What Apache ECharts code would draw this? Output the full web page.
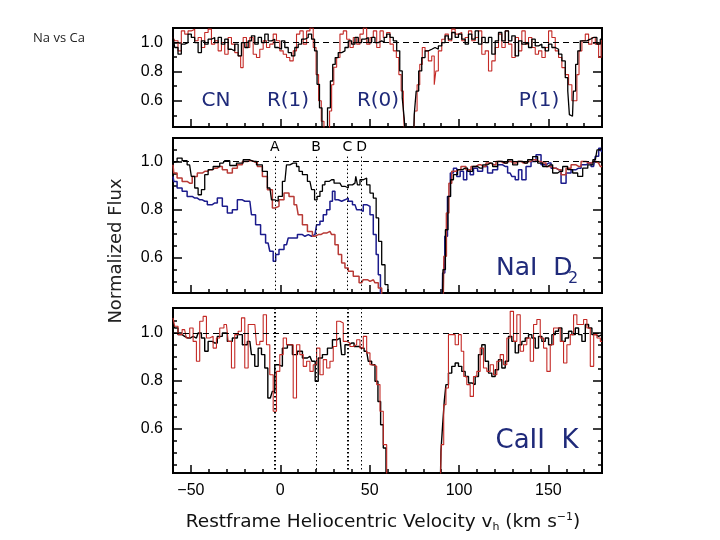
<!DOCTYPE html>
<html>
<head>
<meta charset="utf-8">
<script src="https://cdn.jsdelivr.net/npm/echarts@6/dist/echarts.min.js"></script>
<style>
html,body{margin:0;padding:0;background:#fff;}
#chart{width:720px;height:540px;}
</style>
</head>
<body>
<div id="chart"></div>
<script>
// ---- tick values / labels ----
const xMinorTicks = [-50,-40,-30,-20,-10,0,10,20,30,40,50,60,70,80,90,100,110,120,130,140,150,160,170];
const xMajorTicks = [-50,0,50,100,150];
const yMajorTicks = [0.6,0.8,1.0];
const yMinorTicksTop = [0.5,0.6,0.7,0.8,0.9,1.0];
const yMinorTicksMid = [0.5,0.55,0.6,0.65,0.7,0.75,0.8,0.85,0.9,0.95,1.0,1.05];
const yMinorTicksBot = [0.45,0.5,0.55,0.6,0.65,0.7,0.75,0.8,0.85,0.9,0.95,1.0,1.05];

// component velocities (km/s)
const compNames = ['A','B','C','D'];
const compVel = [-3,20,37.5,45.5];

// ---- CN panel: [velocity, normalized flux] ----
const cnBlack = [[-60.0,1.046],[-58.1,0.966],[-56.3,0.92],[-54.4,0.989],[-52.5,1.0],[-50.7,1.058],[-48.8,1.035],[-46.9,1.0],[-45.0,0.931],[-43.2,1.012],[-41.3,0.989],[-39.4,1.023],[-37.6,1.035],[-35.7,1.0],[-33.8,1.035],[-32.0,0.989],[-30.1,1.023],[-28.2,0.954],[-26.4,0.943],[-24.5,0.989],[-22.6,0.908],[-20.8,1.0],[-18.9,0.966],[-17.0,1.012],[-15.2,1.046],[-13.3,0.989],[-11.4,1.035],[-9.6,1.0],[-7.7,1.058],[-5.8,1.012],[-4.0,1.023],[-2.1,0.966],[-0.2,0.954],[1.6,1.012],[3.5,0.966],[5.4,0.931],[7.2,0.908],[9.1,0.966],[11.0,0.989],[12.9,1.023],[14.7,1.035],[16.6,1.058],[18.5,1.023],[19.9,0.943],[21.3,0.713],[22.6,0.552],[24.1,0.3],[25.5,0.3],[27.4,0.552],[28.7,0.736],[30.0,0.85],[31.5,0.897],[33.4,0.931],[35.3,0.943],[37.1,0.966],[39.0,1.012],[40.9,0.989],[42.7,1.035],[44.6,1.0],[46.5,1.023],[48.3,1.035],[50.2,1.0],[52.1,1.035],[53.9,1.0],[55.8,1.012],[57.7,1.0],[58.6,1.035],[60.5,1.058],[62.3,1.035],[64.2,1.012],[66.1,0.943],[67.6,0.805],[68.9,0.62],[69.8,0.48],[70.7,0.3],[74.5,0.3],[75.4,0.505],[76.7,0.667],[78.2,0.805],[80.1,0.897],[81.9,0.943],[83.8,0.954],[85.7,0.966],[87.5,0.954],[89.4,0.977],[91.3,1.0],[93.1,1.046],[95.0,1.023],[96.9,1.069],[98.8,1.035],[100.6,1.058],[102.5,1.023],[104.4,0.989],[106.2,1.058],[108.1,1.023],[110.0,1.08],[111.8,0.989],[113.7,1.035],[115.6,1.0],[117.4,1.035],[119.3,0.92],[121.2,1.012],[123.0,1.069],[124.9,1.012],[126.8,1.08],[128.6,1.012],[130.5,1.046],[132.4,0.908],[134.2,1.012],[136.1,0.989],[138.0,1.0],[139.8,0.966],[141.7,1.023],[143.6,0.977],[145.4,0.989],[147.3,0.966],[149.2,0.943],[151.0,0.989],[152.9,0.966],[154.8,0.954],[156.6,0.92],[158.5,0.874],[160.4,0.759],[161.3,0.667],[162.2,0.505],[163.5,0.494],[164.5,0.667],[166.0,0.85],[166.9,0.943],[168.8,1.012],[170.6,1.012],[172.5,1.023],[174.4,1.035],[176.2,1.035],[178.1,0.989],[180.0,1.023]];

const cnRed = [[-60.0,1.035],[-58.1,1.012],[-56.3,0.943],[-54.4,1.08],[-52.5,1.058],[-50.7,1.08],[-48.8,1.092],[-46.9,1.012],[-45.0,1.035],[-43.2,0.966],[-41.3,1.069],[-39.4,1.092],[-37.6,0.989],[-35.7,1.012],[-33.8,0.943],[-32.0,1.0],[-30.1,0.92],[-28.2,1.035],[-26.4,0.989],[-24.5,0.931],[-22.6,0.908],[-21.7,0.828],[-19.8,1.035],[-18.0,0.966],[-16.1,1.035],[-14.2,0.92],[-12.4,0.897],[-10.5,0.954],[-8.6,1.012],[-6.8,0.966],[-4.9,0.989],[-3.0,1.058],[-1.2,1.012],[0.7,0.943],[2.6,0.92],[4.4,0.897],[6.3,0.874],[8.2,0.943],[10.0,1.058],[11.9,1.08],[13.8,0.989],[15.7,1.08],[17.5,1.1],[19.4,0.966],[20.7,0.78],[22.2,0.6],[23.7,0.46],[25.2,0.3],[27.0,0.3],[28.2,0.53],[29.3,0.71],[30.6,0.83],[32.5,0.897],[34.3,1.058],[36.2,1.08],[38.1,1.023],[39.9,0.966],[41.8,1.035],[43.7,0.989],[45.5,1.058],[47.4,1.1],[49.3,0.989],[51.1,1.035],[53.0,1.08],[54.9,0.966],[56.7,1.08],[58.6,1.035],[60.5,1.069],[62.3,0.989],[64.2,0.943],[65.7,0.897],[67.0,0.78],[68.3,0.667],[69.4,0.53],[70.4,0.3],[74.5,0.3],[75.8,0.53],[77.3,0.71],[78.8,0.85],[80.1,0.966],[81.9,0.943],[83.8,0.874],[85.7,0.908],[86.6,0.71],[87.5,0.805],[89.4,0.943],[91.3,1.023],[93.1,1.058],[95.0,1.012],[96.9,1.092],[98.8,1.058],[100.6,1.069],[102.5,1.012],[104.4,1.035],[106.2,1.08],[108.1,1.012],[110.0,1.035],[111.8,1.08],[113.7,0.92],[115.6,0.943],[117.4,0.805],[119.3,0.874],[121.2,0.966],[123.0,1.058],[124.9,0.966],[126.8,1.08],[128.6,0.989],[130.5,0.897],[132.4,1.035],[134.2,0.943],[136.1,1.08],[138.0,0.989],[139.8,1.035],[141.7,0.966],[143.6,0.92],[145.4,0.943],[147.3,0.897],[149.2,0.966],[151.0,1.08],[152.9,1.035],[154.8,0.943],[156.6,0.897],[158.5,0.828],[160.4,0.78],[162.2,0.71],[164.1,0.6],[165.4,0.6],[166.5,0.78],[167.8,0.943],[169.7,1.012],[171.6,1.058],[173.4,0.989],[175.3,1.035],[177.2,0.989],[179.0,0.897],[180.0,1.012]];

// ---- Na I D2 panel ----
const naBlack = [[-60.0,0.995],[-59.1,1.0],[-56.3,1.014],[-53.5,1.003],[-50.7,0.986],[-48.8,0.938],[-46.9,0.89],[-45.0,0.862],[-43.2,0.883],[-41.3,0.945],[-39.4,0.966],[-35.7,0.979],[-32.0,0.993],[-30.1,1.003],[-26.4,0.983],[-22.6,0.993],[-18.9,1.007],[-15.2,1.0],[-11.4,0.986],[-8.6,0.959],[-5.8,0.89],[-4.0,0.841],[-2.1,0.835],[-0.2,0.855],[2.6,0.917],[4.4,0.986],[6.3,0.993],[8.2,0.993],[10.0,0.979],[11.0,0.959],[13.8,0.945],[16.6,0.917],[18.5,0.883],[19.9,0.841],[21.3,0.855],[23.1,0.876],[24.1,0.903],[25.9,0.917],[28.7,0.924],[31.5,0.91],[33.4,0.91],[35.3,0.897],[37.1,0.89],[39.0,0.903],[41.8,0.91],[42.7,0.938],[43.7,0.903],[45.5,0.924],[47.4,0.931],[49.3,0.903],[51.1,0.869],[53.0,0.848],[54.3,0.766],[55.8,0.669],[57.7,0.572],[59.5,0.49],[61.0,0.3],[90.4,0.3],[91.7,0.552],[93.1,0.717],[94.6,0.855],[96.0,0.924],[97.8,0.945],[100.6,0.966],[103.4,0.972],[106.2,0.959],[109.0,0.979],[111.8,0.972],[114.6,0.986],[117.4,0.993],[120.2,0.979],[123.0,1.0],[125.8,0.993],[128.6,1.007],[131.4,0.986],[134.2,1.0],[137.0,0.993],[139.8,1.007],[142.6,1.02],[145.4,0.993],[148.2,0.979],[151.0,0.986],[153.8,0.952],[156.6,0.959],[159.4,0.979],[162.2,0.966],[165.0,0.952],[167.8,0.938],[170.6,0.972],[173.5,0.986],[176.3,1.007],[178.1,1.048],[180.0,1.055]];

const naBlue = [[-60.0,0.938],[-59.1,0.917],[-56.3,0.89],[-53.5,0.876],[-50.7,0.855],[-47.8,0.848],[-45.0,0.841],[-42.2,0.835],[-39.4,0.821],[-36.6,0.828],[-33.8,0.848],[-31.0,0.814],[-28.2,0.786],[-25.4,0.8],[-22.6,0.841],[-19.8,0.835],[-17.0,0.835],[-15.2,0.779],[-12.4,0.738],[-9.6,0.697],[-6.8,0.662],[-4.9,0.628],[-3.0,0.586],[-2.1,0.614],[0.7,0.635],[3.5,0.655],[5.4,0.683],[8.2,0.683],[11.0,0.697],[13.8,0.69],[15.7,0.697],[17.5,0.69],[19.4,0.697],[21.3,0.738],[23.1,0.752],[25.0,0.779],[26.9,0.8],[28.7,0.835],[29.7,0.876],[31.5,0.841],[33.4,0.835],[35.3,0.841],[37.1,0.848],[39.0,0.835],[41.8,0.821],[43.7,0.8],[45.5,0.793],[47.4,0.821],[49.3,0.814],[51.1,0.779],[53.0,0.697],[54.3,0.614],[55.4,0.531],[56.7,0.3],[90.4,0.3],[91.3,0.538],[92.8,0.69],[94.3,0.855],[96.0,0.952],[97.8,0.972],[99.7,0.938],[101.6,0.959],[103.4,0.924],[105.3,0.966],[107.2,0.945],[109.0,0.972],[111.8,0.959],[114.6,0.979],[117.4,0.952],[120.2,0.966],[123.0,0.986],[125.8,0.979],[128.6,0.952],[130.5,0.938],[132.4,0.924],[134.2,0.966],[136.1,0.924],[138.9,0.979],[141.7,1.0],[144.5,1.028],[147.3,0.986],[150.1,0.993],[152.9,0.972],[155.7,0.966],[158.5,0.91],[161.3,0.952],[164.1,0.966],[166.9,0.972],[169.7,0.986],[172.5,0.993],[175.3,0.979],[177.2,1.021],[179.1,1.055],[180.0,1.041]];

const naRed = [[-60.0,0.986],[-59.1,0.952],[-56.3,0.931],[-53.5,0.917],[-50.7,0.91],[-47.8,0.938],[-45.0,0.952],[-42.2,0.959],[-39.4,0.966],[-36.6,0.972],[-33.8,0.979],[-31.0,0.966],[-28.2,0.952],[-25.4,0.972],[-22.6,0.986],[-19.8,1.0],[-17.0,1.003],[-14.2,0.997],[-11.4,0.979],[-8.6,0.938],[-5.8,0.883],[-3.0,0.807],[-2.1,0.814],[0.7,0.841],[3.5,0.869],[6.3,0.855],[9.1,0.821],[11.0,0.779],[13.8,0.738],[16.6,0.71],[19.4,0.69],[21.3,0.697],[24.1,0.703],[27.8,0.71],[29.7,0.697],[31.5,0.655],[33.4,0.614],[35.3,0.579],[37.1,0.559],[39.0,0.545],[42.7,0.524],[45.5,0.497],[47.4,0.51],[50.2,0.503],[52.1,0.51],[53.9,0.497],[55.8,0.476],[57.7,0.3],[90.9,0.3],[92.2,0.607],[93.7,0.786],[95.0,0.91],[96.9,0.959],[99.7,0.966],[102.5,0.979],[105.3,0.966],[108.1,0.979],[110.9,0.986],[113.7,0.979],[116.5,0.993],[119.3,0.986],[122.1,1.0],[124.9,0.993],[127.7,1.0],[130.5,0.993],[133.3,1.0],[136.1,0.993],[138.9,1.0],[141.7,1.007],[144.5,1.0],[147.3,0.993],[150.1,0.979],[152.9,0.972],[155.7,0.966],[158.5,0.945],[161.3,0.972],[164.1,0.986],[166.9,0.979],[169.7,1.0],[172.5,0.993],[175.3,1.0],[178.1,0.993],[180.0,0.979]];

// ---- Ca II K panel ----
const caBlack = [[-60.0,1.035],[-58.1,1.021],[-56.3,0.993],[-53.5,0.986],[-51.6,0.979],[-48.8,0.986],[-46.9,0.979],[-45.0,1.0],[-43.2,0.979],[-41.3,0.924],[-39.4,0.965],[-36.6,0.958],[-33.8,0.986],[-31.0,1.0],[-28.2,0.965],[-25.4,0.979],[-22.6,0.993],[-19.8,0.951],[-17.0,0.965],[-15.2,0.91],[-13.3,0.861],[-11.4,0.937],[-9.6,0.91],[-7.7,0.854],[-6.2,0.729],[-4.9,0.729],[-4.0,0.757],[-2.1,0.868],[-0.2,0.861],[2.6,0.937],[5.4,0.951],[8.2,0.91],[11.0,0.924],[13.8,0.896],[16.6,0.903],[18.8,0.882],[20.3,0.799],[22.2,0.896],[25.0,0.91],[27.8,0.937],[30.6,0.972],[33.4,0.979],[35.3,0.91],[37.1,0.951],[39.9,0.958],[42.7,0.944],[45.5,0.937],[48.3,0.924],[50.2,0.882],[52.1,0.868],[53.9,0.799],[55.4,0.715],[56.9,0.618],[58.4,0.521],[59.9,0.3],[89.4,0.3],[90.4,0.507],[91.3,0.618],[92.2,0.715],[93.2,0.785],[95.0,0.833],[96.9,0.861],[98.8,0.875],[100.6,0.861],[102.5,0.84],[104.4,0.819],[106.2,0.792],[108.1,0.785],[110.0,0.819],[111.8,0.91],[113.7,0.951],[115.6,0.882],[117.4,0.833],[119.3,0.819],[121.2,0.847],[123.0,0.889],[124.9,0.854],[126.8,0.882],[128.6,0.986],[130.5,0.965],[132.4,0.917],[134.2,0.951],[136.1,0.965],[138.0,0.979],[139.8,0.993],[141.7,0.979],[143.6,0.937],[145.4,0.986],[147.3,0.965],[149.2,0.979],[151.0,0.951],[152.9,0.993],[154.8,1.007],[156.6,1.021],[158.5,0.965],[160.4,0.979],[162.2,1.007],[164.1,0.993],[166.0,1.021],[167.8,0.993],[169.7,0.965],[171.6,1.035],[173.4,1.021],[175.3,0.993],[178.1,0.986],[180.0,0.993]];

const caRed = [[-60.0,1.063],[-58.1,1.028],[-56.3,0.993],[-53.5,1.014],[-51.6,0.979],[-49.7,1.021],[-47.8,0.965],[-46.0,0.882],[-44.1,1.049],[-42.2,1.069],[-40.4,0.979],[-38.5,0.986],[-36.6,0.937],[-34.8,0.979],[-32.9,1.021],[-30.1,1.035],[-28.2,0.965],[-26.4,0.854],[-24.5,0.993],[-22.6,1.007],[-20.8,1.063],[-18.9,0.854],[-17.0,1.035],[-14.2,1.035],[-12.4,0.951],[-10.5,0.965],[-8.6,1.076],[-6.8,0.951],[-4.9,0.826],[-3.0,0.674],[-1.2,0.84],[0.7,0.91],[2.6,0.979],[4.4,0.951],[6.3,0.951],[8.2,0.729],[10.0,0.951],[11.9,0.91],[13.8,0.861],[15.7,0.882],[17.5,0.84],[19.4,0.868],[21.3,0.937],[23.1,0.826],[25.0,0.889],[26.9,0.854],[28.7,0.882],[30.6,0.944],[32.5,1.049],[34.3,1.042],[36.2,0.965],[38.1,0.958],[39.9,0.944],[41.8,0.951],[43.7,0.972],[45.5,0.937],[47.4,0.986],[49.3,0.917],[51.1,0.868],[53.0,0.861],[54.9,0.785],[56.7,0.674],[58.6,0.535],[60.5,0.3],[89.4,0.3],[90.7,0.535],[92.2,0.701],[93.2,0.771],[95.0,0.993],[96.9,0.993],[98.8,0.951],[100.6,0.993],[101.9,0.924],[103.4,0.819],[105.3,0.785],[107.2,0.736],[109.0,0.819],[110.9,0.84],[112.8,0.937],[114.6,0.854],[116.5,0.84],[118.4,0.868],[120.2,0.826],[122.1,0.882],[124.0,0.91],[125.8,0.868],[127.7,0.979],[129.6,1.09],[131.4,0.965],[133.3,1.076],[135.2,0.924],[137.0,0.951],[138.9,0.979],[140.8,0.882],[142.6,1.035],[144.5,1.056],[146.4,0.979],[148.2,0.937],[150.1,0.84],[152.0,0.951],[153.8,1.021],[155.7,1.021],[157.6,0.965],[159.4,0.875],[161.3,0.951],[163.2,0.993],[165.0,1.076],[166.9,1.035],[168.8,1.035],[170.6,1.056],[172.5,1.021],[174.4,0.861],[176.3,0.993],[178.1,0.979],[180.0,0.965]];

// ---- layout ----
const panels = [
  {top: 28,  height: 99,  ymin: 0.42,  ymax: 1.10,  minor: yMinorTicksTop},
  {top: 138, height: 155, ymin: 0.455, ymax: 1.097, minor: yMinorTicksMid},
  {top: 308, height: 165, ymin: 0.417, ymax: 1.104, minor: yMinorTicksBot}
];
const tickFont = {fontFamily: 'Liberation Sans', fontSize: 16, color: '#000'};
const grids = [], xAxes = [], yAxes = [];
panels.forEach((p, i) => {
  grids.push({left: 173, top: p.top, width: 429, height: p.height, show: true,
    borderColor: '#000', borderWidth: 2, backgroundColor: 'transparent', containLabel: false});
  const xbase = {type: 'value', gridIndex: i, min: -60, max: 180, position: 'bottom',
    splitLine: {show: false}, axisLine: {show: false, onZero: false}};
  xAxes.push(Object.assign({}, xbase, {
    axisTick: {show: true, inside: true, length: 4, customValues: xMinorTicks, lineStyle: {color: '#000', width: 1.5}},
    axisLabel: {show: false}}));
  xAxes.push(Object.assign({}, xbase, {
    axisTick: {show: true, inside: true, length: 8, customValues: xMajorTicks, lineStyle: {color: '#000', width: 1.5}},
    axisLabel: i === 2 ? Object.assign({show: true, margin: 10, customValues: xMajorTicks,
      formatter: v => (v < 0 ? '\u2212' + (-v) : '' + v)}, tickFont) : {show: false}}));
  ['left', 'right'].forEach(pos => {
    const ybase = {type: 'value', gridIndex: i, min: p.ymin, max: p.ymax, position: pos,
      splitLine: {show: false}, axisLine: {show: false, onZero: false}};
    yAxes.push(Object.assign({}, ybase, {
      axisTick: {show: true, inside: true, length: 4, customValues: p.minor, lineStyle: {color: '#000', width: 1.5}},
      axisLabel: {show: false}}));
    yAxes.push(Object.assign({}, ybase, {
      axisTick: {show: true, inside: true, length: 9, customValues: yMajorTicks, lineStyle: {color: '#000', width: 1.5}},
      axisLabel: pos === 'left' ? Object.assign({show: true, margin: 10, customValues: yMajorTicks,
        formatter: v => v.toFixed(1)}, tickFont) : {show: false}}));
  });
});

function spec(data, gi, color, width, z) {
  return {type: 'line', data: data, xAxisIndex: gi * 2, yAxisIndex: gi * 4 + 1,
    step: 'middle', symbol: 'none', showSymbol: false, clip: true, z: z || 2,
    lineStyle: {color: color, width: width}, silent: true};
}
const dashLine = {silent: true, symbol: ['none', 'none'], label: {show: false},
  lineStyle: {color: '#000', type: [6, 4], width: 1}, data: [{yAxis: 1.0}]};

function compLines(p, topVal, widths, showLabel) {
  return {silent: true, symbol: ['none', 'none'],
    data: compVel.map((v, k) => [
      {coord: [v, topVal], lineStyle: {color: '#000', type: [1.5, 2.5], width: widths[k]},
       label: {show: showLabel, position: 'start', distance: 2, formatter: compNames[k],
         fontFamily: 'DejaVu Sans', fontSize: 14, color: '#000'}},
      {coord: [v, p.ymin]}
    ])};
}

const redCol = '#c42a26';
const series = [
  Object.assign(spec(cnRed, 0, redCol, 1.1, 2), {markLine: dashLine}),
  spec(cnBlack, 0, '#000', 1.3, 3),
  Object.assign(spec(naBlue, 1, '#1b1b8c', 1.5, 2), {markLine: dashLine}),
  Object.assign(spec(naRed, 1, '#b83a36', 1.5, 3), {markLine: compLines(panels[1], 1.02, [1, 1, 1, 1], true)}),
  spec(naBlack, 1, '#000', 1.3, 4),
  Object.assign(spec(caBlack, 2, '#000', 1.4, 2), {markLine: dashLine}),
  Object.assign(spec(caRed, 2, redCol, 1.1, 3), {markLine: compLines(panels[2], panels[2].ymax, [2, 1, 2, 1], false)})
];

const navy = '#1f2a7a';
function lbl(text, x, y, size, align) {
  return {type: 'text', x: x, y: y, style: {text: text, fontFamily: 'DejaVu Sans', fontSize: size,
    fill: navy, align: align || 'center', verticalAlign: 'middle'}};
}
const graphics = [
  {type: 'text', left: 33, top: 32, style: {text: 'Na vs Ca', fontFamily: 'Open Sans', fontSize: 13, fill: '#222'}},
  {type: 'text', x: 116, y: 251, rotation: Math.PI / 2,
    style: {text: 'Normalized Flux', fontFamily: 'DejaVu Sans', fontSize: 18, fill: '#222', align: 'center', verticalAlign: 'middle'}},
  lbl('CN', 216, 101, 20),
  lbl('R(1)', 288, 101, 20),
  lbl('R(0)', 378, 101, 20),
  lbl('P(1)', 539, 101, 20),
  lbl('NaI  D', 496, 268, 25, 'left'),
  lbl('2', 568, 279, 16, 'left'),
  lbl('CaII  K', 537, 441, 26),
  {type: 'text', x: 383, y: 522, style: {text: '{b|Restframe Heliocentric Velocity v}{s|h}{b| (km s}{p|\u22121}{b|)}',
    align: 'center', verticalAlign: 'middle',
    rich: {b: {fontFamily: 'DejaVu Sans', fontSize: 18.5, fill: '#111', lineHeight: 24},
           s: {fontFamily: 'DejaVu Sans', fontSize: 11, fill: '#111', lineHeight: 24, padding: [11, 0, 0, 0]},
           p: {fontFamily: 'DejaVu Sans', fontSize: 11, fill: '#111', lineHeight: 24, padding: [0, 0, 9, 0]}}}}
];

const chart = echarts.init(document.getElementById('chart'), null, {renderer: 'canvas'});
chart.setOption({
  animation: false,
  backgroundColor: '#fff',
  grid: grids, xAxis: xAxes, yAxis: yAxes, series: series, graphic: graphics
});
</script>
</body>
</html>
